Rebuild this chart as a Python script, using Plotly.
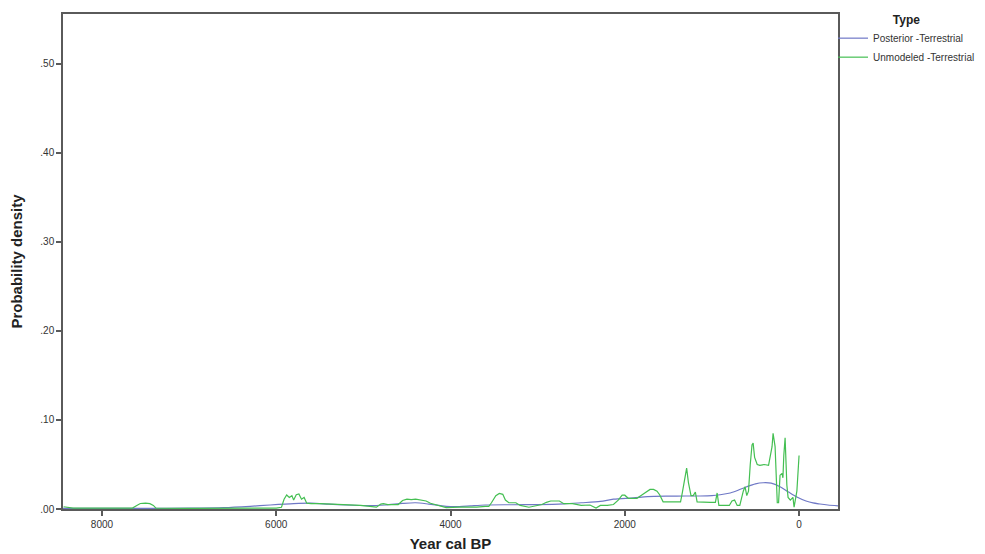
import plotly.graph_objects as go

# Posterior -Terrestrial (blue)
post_year = [8447, 8000, 7500, 7000, 6600, 6300, 6070, 5800, 5600, 5400, 5200, 4950, 4750, 4550, 4400,
             4250, 4050, 3900, 3770, 3600, 3300, 3000, 2700, 2500, 2280, 2130, 1900, 1740, 1500, 1300,
             1135, 1000, 905, 790, 700, 600, 500, 410, 320, 218, 120, 25, -80, -160, -240, -330, -447]
post_val = [0.0008, 0.0008, 0.0008, 0.0009, 0.0015, 0.003, 0.0045, 0.006, 0.0065, 0.0055, 0.0045, 0.0038,
            0.0045, 0.0063, 0.007, 0.0055, 0.003, 0.0027, 0.0035, 0.0045, 0.0048, 0.005, 0.0058, 0.007,
            0.0085, 0.011, 0.0125, 0.014, 0.0145, 0.0146, 0.0146, 0.015, 0.016, 0.018, 0.021, 0.025,
            0.0283, 0.0295, 0.029, 0.025, 0.019, 0.0135, 0.009, 0.0068, 0.0056, 0.0045, 0.0035]

# Unmodeled -Terrestrial (green)
unmod_year = [8440, 8400, 8330, 8000, 7650, 7600, 7560, 7500, 7450, 7410, 7380, 7000, 6500, 6000, 5940,
              5910, 5880, 5850, 5820, 5800, 5770, 5740, 5710, 5680, 5650, 5600, 5500, 5400, 5300, 5200,
              5030, 4850, 4800, 4770, 4720, 4600, 4550, 4500, 4450, 4400, 4350, 4280, 4230, 4150, 4050,
              3900, 3700, 3600, 3560, 3530, 3480, 3440, 3400, 3370, 3330, 3250, 3200, 3100, 3000, 2950,
              2900, 2850, 2750, 2700, 2600, 2500, 2400, 2330, 2280, 2200, 2130, 2075, 2030, 2000, 1960,
              1900, 1860, 1800, 1710, 1670, 1630, 1600, 1560, 1500, 1400, 1360, 1340, 1310, 1290, 1270,
              1240, 1215, 1190, 1170, 1100, 1020, 960, 940, 920, 850, 800, 770, 740, 710, 680, 640, 620,
              600, 580, 560, 540, 527, 510, 480, 450, 400, 350, 310, 298, 275, 250, 235, 218, 195, 185,
              175, 160, 140, 126, 100, 70, 57, 25, 0]
unmod_val = [0.0025, 0.002, 0.001, 0.001, 0.001, 0.004, 0.0062, 0.0065, 0.006, 0.004, 0.001, 0.0008,
             0.0008, 0.001, 0.002, 0.011, 0.0157, 0.013, 0.015, 0.010, 0.016, 0.0168, 0.011, 0.013, 0.0065,
             0.006, 0.006, 0.0055, 0.0045, 0.004, 0.004, 0.002, 0.0055, 0.006, 0.005, 0.005, 0.0095, 0.011,
             0.0105, 0.011, 0.0105, 0.009, 0.0064, 0.004, 0.0015, 0.002, 0.002, 0.003, 0.003, 0.007, 0.015,
             0.0175, 0.0165, 0.010, 0.007, 0.007, 0.004, 0.002, 0.004, 0.005, 0.0075, 0.009, 0.009, 0.006,
             0.006, 0.004, 0.0045, 0.001, 0.004, 0.004, 0.005, 0.010, 0.0157, 0.0155, 0.012, 0.012, 0.012,
             0.016, 0.022, 0.022, 0.020, 0.016, 0.008, 0.008, 0.008, 0.008, 0.018, 0.035, 0.046, 0.030,
             0.015, 0.015, 0.019, 0.008, 0.0075, 0.0075, 0.0075, 0.018, 0.004, 0.004, 0.004, 0.009, 0.010,
             0.004, 0.004, 0.020, 0.025, 0.015, 0.020, 0.050, 0.072, 0.074, 0.058, 0.050, 0.049, 0.050,
             0.049, 0.070, 0.085, 0.070, 0.007, 0.007, 0.038, 0.040, 0.035, 0.060, 0.080, 0.027, 0.013,
             0.010, 0.013, 0.002, 0.020, 0.060]

y_tickvals = [0.0, 0.1, 0.2, 0.3, 0.4, 0.5]
y_ticktext = [".00", ".10", ".20", ".30", ".40", ".50"]
x_tickvals = [8000, 6000, 4000, 2000, 0]
x_ticktext = ["8000", "6000", "4000", "2000", "0"]

fig = go.Figure()
fig.add_trace(go.Scatter(x=post_year, y=post_val, mode="lines", name="Posterior -Terrestrial",
                         line=dict(color="#6f78c6", width=1.2, shape="spline", smoothing=0.8)))
fig.add_trace(go.Scatter(x=unmod_year, y=unmod_val, mode="lines", name="Unmodeled -Terrestrial",
                         line=dict(color="#44bf52", width=1.2)))

axis_common = dict(showline=True, linecolor="#5a5a5a", linewidth=1.5, mirror=True,
                   ticks="outside", ticklen=5, tickcolor="#5a5a5a", tickwidth=1.5,
                   showgrid=False, zeroline=False, automargin=False,
                   tickfont=dict(family="Liberation Sans, Arial", size=10, color="#333333"))

# the page body adds an ~8px offset, so the figure is 977x546
fig.update_layout(
    width=977, height=546,
    margin=dict(l=55, r=147, t=6, b=45, autoexpand=False),
    plot_bgcolor="white", paper_bgcolor="white",
    xaxis=dict(range=[8447, -447], tickvals=x_tickvals, ticktext=x_ticktext,
               title=dict(text="<b>Year cal BP</b>", standoff=10,
                          font=dict(family="Liberation Sans, Arial", size=15, color="#222222")),
               **axis_common),
    yaxis=dict(range=[0, 0.556], tickvals=y_tickvals, ticktext=y_ticktext,
               title=dict(text="<b>Probability density</b>", standoff=16,
                          font=dict(family="Liberation Sans, Arial", size=15, color="#222222")),
               **axis_common),
    legend=dict(x=0.9936, y=1.012, xanchor="left", yanchor="top",
                title=dict(text="<b>Type</b>", side="top center",
                           font=dict(family="Liberation Sans, Arial", size=12, color="#222222")),
                font=dict(family="Liberation Sans, Arial", size=10, color="#333333"),
                itemwidth=30, tracegroupgap=0, bgcolor="rgba(0,0,0,0)"),
    showlegend=True,
)

fig.write_html("out.html")
